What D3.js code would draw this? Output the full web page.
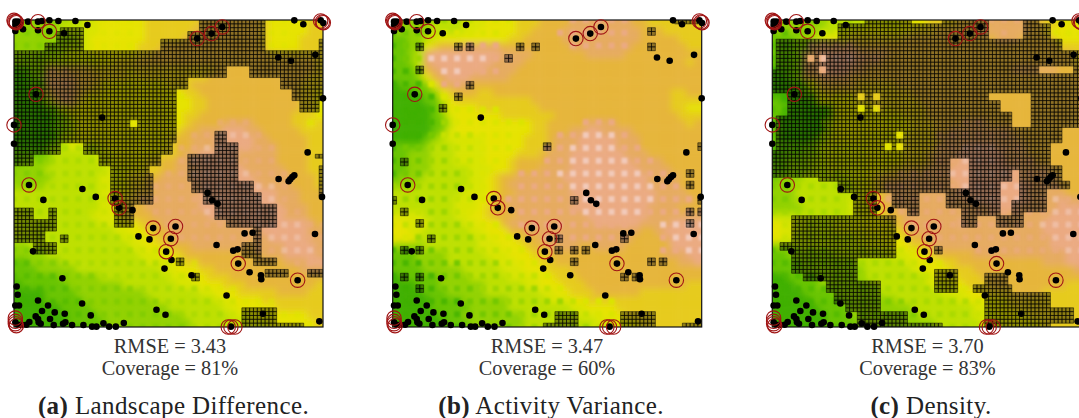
<!DOCTYPE html>
<html><head><meta charset="utf-8">
<script src="https://cdn.jsdelivr.net/npm/d3@7"></script>
<style>html,body{margin:0;padding:0;background:#fff;overflow:hidden}svg{display:block}</style>
</head><body><svg id="c" width="1079" height="418"></svg>
<script>
// colour levels of the terrain map
const levelColors=["#3fb000","#68c400","#92d200","#bde000","#d8e400","#e6e300","#e6cb1c","#e6b53a","#e6ab60","#ebaa82","#f0c0ac","#f5d8cf"];
const fieldA=[
"2222223334455555566666667777777765555566",
"2222223334455555566666677777777765555566",
"2222222234555555566666777777777765555666",
"2222222334555555666777777777777765555666",
"2222223444555555667777777777777776666666",
"2222333444455666777777777777777777777776",
"0122777777666666666666666677777777777776",
"0012888877766665666666666777777777777766",
"0011788877665555555566677777777777777666",
"0001788876655555555555667777777777777665",
"0000378865555555555555566777777777777665",
"0000125655555555555555566777777777777665",
"0000012455555555555555667777777777776665",
"0000012355555555555555677778888777776656",
"0000012355555555555556778889998877777666",
"0000013455555555555567788899999887777766",
"0000123443345555555567788899999888777766",
"1111233333344555555667889999988888777766",
"1222233333344555566778899999988888777766",
"2222333333334445566778889999998888877766",
"2222233333344456677888899999999888887776",
"2222333333344456678888889999999988887776",
"3333333333344556778888889999999999888777",
"3333333333344567788888889999999999888777",
"3333333333344567788888889999999999988877",
"3333333333444567778888888999999999988877",
"3333333333344455677888888888899999999987",
"3333333333333445567788888888888899999988",
"3333333333333344556778888888888889999988",
"2233333333333334455677788888887888899998",
"2222333333333333444556777777777788899998",
"1122223333333333344455667777777777788899",
"1112222233333333333445556677777777777888",
"1111112222233333333344455666777777777777",
"0111111222222233333334445556667777777776",
"0000111122222222233333334455566666777766",
"0000111112222222223333333344555566666666",
"0000001111222222222233333334455555666666",
"0000000111122222222222333333444555555566",
"0000000111112222222222233333334445555556"];
const fieldB=[
"2222233334445555666777788888888776666666",
"2222233334455555667777888888888877766666",
"1122345555555556677777888888888877777666",
"1122567778888877777777788888888777777766",
"1123899999999988887777777888887777777777",
"1123899999999888877777777777777777777767",
"1113789999998888777777777777777777777777",
"1112578999888887777777777777777777777777",
"0111257888777777777777777777777777777777",
"0001125677766777777777777777777777776677",
"0000113566666666667777777777777777776666",
"0000012555566666666777777777777777776655",
"0000012455555566666667777777777777777666",
"0000011355555555556677777888877777777767",
"0000012455555555556677788998888777777777",
"0000123444445555566678889999988877777777",
"1111233344445555566678889999988877777777",
"1122233344445555666788899999998887777777",
"1122233344445556777788899999999888877777",
"1122233333444556777888899999999988887777",
"1222333333445677888888999999999998888777",
"2223333333445678888888899999999998888777",
"3333333334445677888888899999999999888877",
"3333333344455778888888889999999999888887",
"3333333344456778888888899999999998888777",
"4444333344556777888888888999999998888888",
"5544433334455578888888888899999988889999",
"5544333333445557788888888888888877899999",
"5553333333344555677888888888888777789999",
"2222333333344455567788887788887777779999",
"1112222333334445556677777777777777788899",
"1112222333333444555667777777777777777889",
"1111222223333344455566677777777777777777",
"0111112222333334444556667777777777777777",
"0001112222223333344555666777777777777766",
"0000111222223333333445566677777766666666",
"0000011112222223333344455666666666666666",
"0000011111222223333333344555566666666666",
"0000001112222222233333334445556666666666",
"0000000111222222233333333344455566666666"];
const fieldC=[
"2222222333334444455566667777888887766555",
"2222223334455555556667777778888887765555",
"1112234555666666677777777777788877776555",
"1112288888877777777777777777777777777666",
"1112889999988887777777777777777777777776",
"1112889999988877777777777777777777777776",
"0112889999887777777777777777777888888777",
"0012778888777777777777777777777777777777",
"0001257777766666777777777777777777777777",
"0000136666666666667777777777777777777777",
"1000015555566666666777777777777777777777",
"1100000155555666666677777777777777777777",
"1000000155555555566677777777777777777777",
"1000000355555555556667777888777777777777",
"1000000355555555556667788888888777777777",
"1000012455555555566667888888888877777777",
"1111123444445555566667888999988887777777",
"0111223444445555566678889999998887777777",
"1122233444445555566678889999998888777777",
"1122233444445556677788899999999988887777",
"1222333333445677788888899999999988888777",
"2223333333445678888888889999999998888777",
"2223333333345678888888889999999998888877",
"2223333333445678888888888899999998888988",
"2222333333445677888888888888999988888999",
"3333333333445567788888888888888888889999",
"5444333344445556788888889888888888899999",
"5443333344445555678888888888888888899999",
"5443333333344455567788888888888888889999",
"2223333333334445556678888888888888889999",
"1122222233333334445567777788888888888899",
"1112222222233333344555667777777777788899",
"1111222222223333334455566677777777777778",
"0011112222223333333345556667777777777777",
"0001112222222333333344455666777777777766",
"0000111122222233333333444556666777766666",
"0000011112222222333333334455556666666666",
"0000001111222222223333333344555666666666",
"0000000111222222222333333344455556666666",
"0000000111122222222223333334445555566666"];
// hatched regions [col0,row0,col1,row1] on the 80x80 map
const hatchA=[[48,0,65,8],[45,3,48,8],[38,5,45,8],[12,2,18,8],[11,3,12,8],[8,6,12,8],[79,5,80,8],
[0,8,80,12],[0,12,55,15],[61,12,80,15],[0,15,45,18],[69,15,80,18],[0,18,42,21],[72,18,80,21],[0,21,42,32],[74,21,79,24],
[0,32,12,35],[18,32,41,35],[0,35,5,38],[22,35,38,38],[25,38,35,40],[25,40,36,48],[26,48,31,54],
[52,29,55,32],[52,32,58,35],[45,35,58,42],[46,42,62,45],[49,45,64,48],[52,48,68,52],[55,52,68,54],[62,54,64,58],[59,58,64,62],[62,62,68,64],
[65,65,71,67],[76,65,80,67],[79,38,80,46],[78,35,80,36],[59,75,68,80],[68,79,75,80],
[0,49,5,52],[0,52,11,55],[9,49,11,52],[0,55,8,58],[5,58,11,61]];
const holesA=[[30,26,32,28]];
const plusA=[[4,17],[13,19],[14,20]];
const hatchB=[[42,76,48,80],[39,79,42,80],[59,76,68,80],[75,79,80,80],[73,0,80,1]];
const plusB=[[2,2],[5,2],[6,2],[10,2],[11,2],[20,1],[20,2],[9,3],[2,4],[6,5],[5,6],[4,7],[12,10],[1,11],[0,14],[1,15],[2,16],[3,17],[1,18],[2,18],[1,20],[2,20],[2,21],[13,17],[13,18],[14,18],[15,18],[14,14],[14,19],[18,17],[18,20],[19,20],[20,19],[21,19],[23,12],[23,13],[23,15],[24,15],[23,16],[24,10],[24,14]];
const hatchC=[[24,0,36,1],[44,0,56,1],[65,0,69,1],[17,1,56,5],[65,1,72,5],[1,5,75,8],[1,8,80,13],[0,13,80,28],
[0,28,12,41],[12,28,17,42],[17,28,21,45],[21,28,27,51],[27,28,31,45],[31,28,35,49],[35,28,38,51],[38,28,45,45],[45,28,49,49],[49,28,53,54],[53,28,58,51],[58,28,65,54],[65,28,71,50],[71,28,72,44],[72,28,75,32],[72,38,75,44],[75,42,77,44],
[5,51,32,58],[2,58,32,60],[5,60,32,62],[5,62,22,66],[8,66,22,68],[14,68,28,71],[16,71,28,74],[19,74,28,76],[22,76,35,79],[22,79,44,80],
[42,65,48,71],[42,59,44,61],[55,66,61,69],[52,69,62,71],[55,71,72,80],[72,75,78,79]];
const holesC=[[59,19,67,24],[62,24,67,28],[56,19,59,21],[9,9,11,11],[12,9,14,11],[12,12,14,14],[69,12,78,14],[46,36,51,44],[62,39,64,42],[59,42,64,47],[59,47,62,51],[0,19,4,25],[0,25,1,34],[16,3,17,5]];
const plusHolesC=[[7,6],[8,6],[7,7],[8,7],[10,9],[9,10],[10,10]];
// sensor readings on the reference's 0..1000 style coordinate plane
const pointsX=[42,50,42,55,42,65,80,110,110,122,144,171,222,258,144,188,878,905,957,965,587,630,662,830,868,941,964,104,38,38,302,83,243,283,126,341,353,393,618,632,648,831,861,866,872,878,918,961,455,522,411,444,508,494,510,489,570,675,729,753,645,695,708,710,744,778,779,888,940,95,183,46,49,110,42,53,242,140,122,160,190,268,465,492,784,953,103,110,146,192,185,84,112,118,157,212,246,272,285,306,323,343,367,75,42,50,60,688];
const pointsY=[62,62,72,68,90,85,62,88,62,60,58,60,60,72,91,97,58,70,58,66,113,98,78,170,180,162,293,281,373,430,351,554,566,590,599,595,623,630,578,600,611,536,543,537,530,525,456,590,684,679,709,718,716,755,780,806,826,887,700,698,735,752,748,791,817,826,838,841,702,754,835,860,885,902,917,917,911,917,934,938,942,947,930,945,942,965,950,958,958,968,972,967,968,972,976,976,976,981,981,971,981,981,970,975,968,975,975,981];
const ringsX=[38,40,44,45,110,144,104,38,83,341,353,455,522,508,494,710,888,587,630,662,957,962,965,42,42,42,45,680,688,700];
const ringsY=[58,62,62,65,62,91,281,373,554,595,623,684,679,716,755,791,841,113,98,78,60,63,65,955,965,972,978,982,982,982];
const rmseLabels=["RMSE = 3.43","RMSE = 3.47","RMSE = 3.70"];
const coverageLabels=["Coverage = 81%","Coverage = 60%","Coverage = 83%"];
const panelTags=["(a)","(b)","(c)"];
const panelNames=["Landscape Difference.","Activity Variance.","Density."];

const panels=[
 {x:14,field:fieldA,hatch:hatchA,holes:holesA,plus:plusA,plusHoles:[],spot:.5,cx:170,capx:173.5},
 {x:392.7,field:fieldB,hatch:hatchB,holes:[],plus:plusB,plusHoles:[],spot:1,cx:547,capx:551},
 {x:772.3,field:fieldC,hatch:hatchC,holes:holesC,plus:[],plusHoles:plusHolesC,spot:.6,cx:927.5,capx:931}
];
const W=309,Y0=20,H=307;
const svg=d3.select("#c");
const defs=svg.append("defs");
const blur=defs.append("filter").attr("id","soft").attr("x","-5%").attr("y","-5%").attr("width","110%").attr("height","110%");
blur.append("feGaussianBlur").attr("stdDeviation",3);
const blur2=defs.append("filter").attr("id","soft2").attr("x","-5%").attr("y","-5%").attr("width","110%").attr("height","110%");
blur2.append("feGaussianBlur").attr("stdDeviation",1);
const color=d3.scaleLinear().domain(levelColors.map((_,i)=>i)).range(levelColors);
const spotLevel=L=>L<=4?L-0.7:L===5?4.2:L===8?9:L===9?10.4:null;

panels.forEach((p,pi)=>{
  const g=svg.append("g");
  const clipId="clip"+pi;
  defs.append("clipPath").attr("id",clipId).append("rect").attr("x",p.x).attr("y",Y0).attr("width",W).attr("height",H);
  const xF=d3.scaleLinear().domain([0,40]).range([p.x,p.x+W]);
  const yF=d3.scaleLinear().domain([0,40]).range([Y0,Y0+H]);
  const xC=d3.scaleLinear().domain([0,80]).range([p.x,p.x+W]);
  const yC=d3.scaleLinear().domain([0,80]).range([Y0,Y0+H]);
  const xL=d3.scaleLinear().domain([0,24]).range([p.x,p.x+W]);
  const yL=d3.scaleLinear().domain([0,24]).range([Y0,Y0+H]);
  const xP=d3.scaleLinear().domain([38,964]).range([p.x,p.x+W]);
  const yP=d3.scaleLinear().domain([57,982]).range([Y0,Y0+H]);

  const clip=g.append("g").attr("clip-path",`url(#${clipId})`);
  const cells=[];
  p.field.forEach((row,r)=>{for(let k=0;k<40;k++)cells.push({k,r,v:+(row[k]||row[row.length-1])});});
  const pad=8;
  clip.append("g").attr("filter","url(#soft)").selectAll("rect").data(cells).join("rect")
    .attr("x",d=>xF(d.k)-(d.k===0?pad:0)-.2)
    .attr("y",d=>yF(d.r)-(d.r===0?pad:0)-.2)
    .attr("width",d=>xF(1)-xF(0)+(d.k===0||d.k===39?pad:0)+.4)
    .attr("height",d=>yF(1)-yF(0)+(d.r===0||d.r===39?pad:0)+.4)
    .attr("fill",d=>color(d.v));
  // lattice of sample spots
  const spots=[];
  for(let i=0;i<=24;i++)for(let j=0;j<=24;j++){
    const k=Math.min(39,Math.round(i*40/24)),r=Math.min(39,Math.round(j*40/24));
    const s=spotLevel(+(p.field[r][k]));
    if(s!==null)spots.push({i,j,s:Math.max(0,s)});
  }
  clip.append("g").attr("filter","url(#soft2)").attr("opacity",p.spot).selectAll("rect").data(spots).join("rect")
    .attr("x",d=>xL(d.i)-3).attr("y",d=>yL(d.j)-3).attr("width",6).attr("height",6)
    .attr("fill",d=>color(d.s));

  // hatched mask
  const mask=new Set();
  const add=(q,on)=>{for(let c=q[0];c<q[2];c++)for(let r=q[1];r<q[3];r++){on?mask.add(c+","+r):mask.delete(c+","+r);}};
  const plusCells=([i,j])=>{const c=Math.round(i*80/24),r=Math.round(j*80/24);return [[c-1,r-1,c+1,r+1]];};
  p.hatch.forEach(q=>add(q,true));
  p.plus.forEach(q=>plusCells(q).forEach(z=>add(z,true)));
  p.holes.forEach(q=>add(q,false));
  p.plusHoles.forEach(q=>plusCells(q).forEach(z=>add(z,false)));
  let fillPath="";
  const keys=[...mask].map(s=>s.split(",").map(Number));
  keys.forEach(([c,r])=>{fillPath+=`M${xC(c)} ${yC(r)}H${xC(c+1)}V${yC(r+1)}H${xC(c)}Z`;});
  clip.append("path").attr("d",fillPath).attr("fill","#000").attr("fill-opacity",.38).attr("stroke","#000").attr("stroke-width",.7).attr("stroke-opacity",.72);

  // frame
  g.append("rect").attr("x",p.x).attr("y",Y0).attr("width",W).attr("height",H).attr("fill","none").attr("stroke","#111").attr("stroke-width",1.2);
  // dots and rings
  g.append("g").selectAll("circle").data(pointsX.map((x,i)=>({x,y:pointsY[i]}))).join("circle")
    .attr("cx",d=>xP(d.x)).attr("cy",d=>yP(d.y)).attr("r",3.3).attr("fill","#000");
  g.append("g").selectAll("circle").data(ringsX.map((x,i)=>({x,y:ringsY[i]}))).join("circle")
    .attr("cx",d=>xP(d.x)).attr("cy",d=>yP(d.y)).attr("r",7.2).attr("fill","none").attr("stroke","#a01515").attr("stroke-width",1.1);
  // labels
  const font="'Liberation Serif',serif";
  g.append("text").attr("x",p.cx).attr("y",353).attr("text-anchor","middle").attr("font-family",font).attr("font-size",20.3).attr("fill","#333").text(rmseLabels[pi]);
  g.append("text").attr("x",p.cx).attr("y",375).attr("text-anchor","middle").attr("font-family",font).attr("font-size",20.3).attr("fill","#333").text(coverageLabels[pi]);
  const cap=g.append("text").attr("x",p.capx).attr("y",413.5).attr("text-anchor","middle").attr("font-family",font).attr("font-size",25).attr("letter-spacing",.4).attr("fill","#222");
  cap.append("tspan").attr("font-weight","bold").text(panelTags[pi]);
  cap.append("tspan").text("  "+panelNames[pi]);
});
</script></body></html>
